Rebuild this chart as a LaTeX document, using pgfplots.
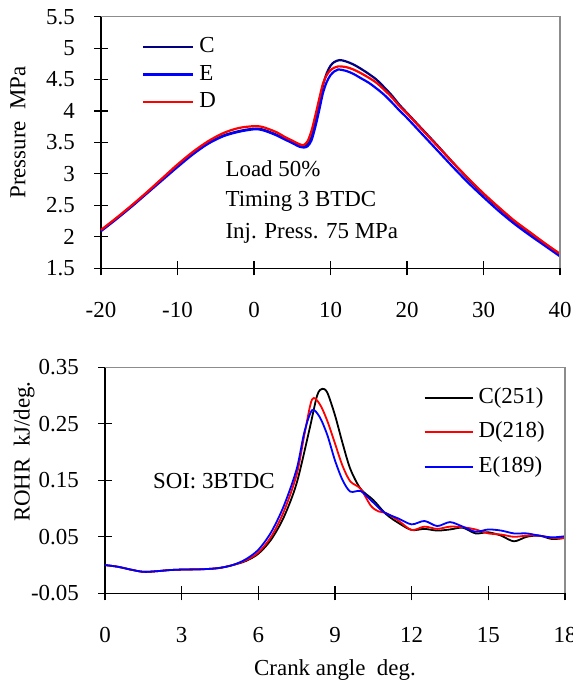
\documentclass[border=0pt]{standalone}
\usepackage{fontspec}
\setmainfont{Liberation Serif}
\usepackage{pgfplots}
\pgfplotsset{compat=1.18}
\definecolor{navyC}{RGB}{0,0,128}
\definecolor{frameg}{RGB}{140,140,140}
\pgfplotsset{
  common/.style={
    scale only axis,
    axis x line*=bottom, axis y line*=left,
    tick align=center, major tick length=14bp,
    axis line style={line width=1.2bp, black},
    tick style={black, line width=1.1bp},
    xticklabel style={anchor=center, inner sep=0pt, yshift=-35bp},
    yticklabel style={anchor=east, inner sep=0pt, xshift=-19bp},
    clip=false,
    legend cell align=left,
    legend style={draw=none, fill=none, inner sep=0pt, column sep=5bp,
      nodes={inner sep=0pt, text height=16bp, text depth=5bp}},
  },
  toplegimg/.style={legend image code/.code={\draw[##1, line width=2.4bp] (0bp,0bp) -- (50bp,0bp);}},
  botlegimg/.style={legend image code/.code={\draw[##1, line width=2bp] (0bp,0bp) -- (48bp,0bp);}},
}
\begin{document}
\begin{tikzpicture}[x=1bp,y=1bp,font=\fontsize{23}{27}\selectfont]
\path[use as bounding box] (0,0) rectangle (573,684);
% ---------------- top axis: pressure ----------------
\begin{axis}[common, toplegimg,
  at={(101bp,415.7bp)}, anchor=south west,
  width=459bp, height=251.6bp,
  xmin=-20, xmax=40, ymin=1.5, ymax=5.5,
  xtick={-20,-10,0,10,20,30,40},
  xticklabels={-20,-10,0,10,20,30,40},
  ytick={1.5,2,2.5,3,3.5,4,4.5,5,5.5},
  yticklabels={1.5,2,2.5,3,3.5,4,4.5,5,5.5},
  ylabel={Pressure\ \ MPa},
  ylabel style={at={(axis description cs:-0.181,0.54)}, anchor=center},
  legend style={at={(axis description cs:0.0887,0.922)}, anchor=north west, row sep=6.5bp},
]
\addplot[navyC, line width=2.2bp, smooth] coordinates {
(-20,2.10)(-18,2.29)(-16,2.49)(-14,2.70)(-12,2.92)(-10,3.13)(-8,3.33)(-6,3.49)(-4,3.61)(-2,3.68)(0,3.72)(1,3.71)(2,3.67)(3,3.62)(4,3.56)(5,3.50)(6,3.44)(6.5,3.43)(7,3.47)(7.5,3.58)(8,3.82)(8.5,4.10)(9,4.40)(9.5,4.60)(10,4.72)(10.5,4.78)(11.2,4.81)(12,4.79)(13,4.74)(14,4.67)(15,4.59)(16,4.50)(17,4.38)(18,4.25)(19,4.10)(20,3.97)(22,3.71)(24,3.45)(26,3.18)(28,2.92)(30,2.68)(32,2.46)(34,2.25)(36,2.07)(38,1.89)(40,1.72)};
\addlegendentry{C}
\addplot[blue, line width=2.2bp, smooth] coordinates {
(-20,2.09)(-18,2.28)(-16,2.48)(-14,2.69)(-12,2.90)(-10,3.11)(-8,3.31)(-6,3.48)(-4,3.60)(-2,3.67)(0,3.71)(1,3.70)(2,3.66)(3,3.61)(4,3.55)(5,3.49)(6,3.43)(6.5,3.42)(7,3.44)(7.5,3.53)(8,3.74)(8.5,4.00)(9,4.28)(9.5,4.46)(10,4.57)(10.5,4.63)(11,4.66)(12,4.64)(13,4.59)(14,4.52)(15,4.45)(16,4.36)(17,4.26)(18,4.14)(19,4.01)(20,3.89)(22,3.63)(24,3.37)(26,3.11)(28,2.86)(30,2.63)(32,2.41)(34,2.21)(36,2.03)(38,1.86)(40,1.69)};
\addlegendentry{E}
\addplot[red, line width=2.2bp, smooth] coordinates {
(-20,2.11)(-18,2.30)(-16,2.50)(-14,2.71)(-12,2.93)(-10,3.15)(-8,3.35)(-6,3.52)(-4,3.65)(-2,3.73)(0,3.76)(1,3.75)(2,3.71)(3,3.66)(4,3.59)(5,3.53)(6,3.47)(6.5,3.46)(7,3.52)(7.5,3.68)(8,3.92)(8.5,4.18)(9,4.43)(9.5,4.57)(10,4.65)(10.5,4.69)(11,4.71)(12,4.70)(13,4.66)(14,4.60)(15,4.53)(16,4.45)(17,4.34)(18,4.22)(19,4.08)(20,3.96)(22,3.70)(24,3.44)(26,3.18)(28,2.93)(30,2.69)(32,2.47)(34,2.26)(36,2.08)(38,1.90)(40,1.73)};
\addlegendentry{D}
\draw[frameg, line width=1.2bp] (rel axis cs:0,1) -- (rel axis cs:1,1) -- (rel axis cs:1,0);
\node[anchor=base west, inner sep=0pt] at (axis description cs:0.271,0.364) {Load 50\%};
\node[anchor=base west, inner sep=0pt] at (axis description cs:0.271,0.245) {Timing 3 BTDC};
\node[anchor=base west, inner sep=0pt] at (axis description cs:0.271,0.120) {Inj. Press. 75 MPa};
\end{axis}
% ---------------- bottom axis: ROHR ----------------
\begin{axis}[common, botlegimg,
  at={(105bp,90.7bp)}, anchor=south west,
  width=460bp, height=226bp,
  xmin=0, xmax=18, ymin=-0.05, ymax=0.35,
  xtick={0,3,6,9,12,15,18},
  xticklabels={0,3,6,9,12,15,18},
  ytick={-0.05,0.05,0.15,0.25,0.35},
  yticklabels={-0.05,0.05,0.15,0.25,0.35},
  ylabel={ROHR\ \ kJ/deg.},
  ylabel style={at={(axis description cs:-0.176,0.627)}, anchor=center},
  xlabel={Crank angle\ \ deg.},
  xlabel style={at={(axis description cs:0.5,-0.339)}, anchor=center},
  legend style={at={(axis description cs:0.692,0.912)}, anchor=north west, row sep=13.6bp},
]
\addplot[black, line width=1.8bp, smooth] coordinates {
(0,0.000)(0.5,-0.003)(1,-0.008)(1.5,-0.012)(2,-0.011)(2.5,-0.009)(3,-0.008)(4,-0.007)(4.5,-0.005)(5,0.000)(5.5,0.007)(6,0.020)(6.5,0.045)(7,0.085)(7.5,0.145)(8.0,0.240)(8.3,0.300)(8.5,0.312)(8.7,0.305)(9.0,0.265)(9.3,0.215)(9.6,0.170)(10.0,0.135)(10.5,0.115)(11.0,0.090)(11.5,0.074)(12,0.062)(12.5,0.064)(13,0.061)(13.5,0.063)(14,0.066)(14.5,0.056)(15,0.058)(15.5,0.052)(16,0.042)(16.5,0.050)(17,0.052)(17.5,0.046)(18,0.048)};
\addlegendentry{C(251)}
\addplot[red, line width=1.8bp, smooth] coordinates {
(0,0.000)(0.5,-0.003)(1,-0.008)(1.5,-0.012)(2,-0.011)(2.5,-0.009)(3,-0.008)(4,-0.007)(4.5,-0.005)(5,0.000)(5.5,0.008)(6,0.022)(6.5,0.050)(7,0.095)(7.5,0.160)(7.8,0.230)(8.1,0.293)(8.4,0.285)(8.7,0.255)(9.0,0.215)(9.3,0.175)(9.6,0.148)(10.0,0.135)(10.4,0.105)(10.7,0.095)(11.0,0.092)(11.5,0.078)(12,0.062)(12.5,0.068)(13,0.064)(13.5,0.068)(14,0.067)(14.5,0.063)(15,0.056)(15.5,0.054)(16,0.050)(16.5,0.052)(17,0.052)(17.5,0.048)(18,0.048)};
\addlegendentry{D(218)}
\addplot[blue, line width=1.8bp, smooth] coordinates {
(0,0.000)(0.5,-0.003)(1,-0.008)(1.5,-0.012)(2,-0.011)(2.5,-0.009)(3,-0.008)(3.5,-0.008)(4,-0.007)(4.5,-0.005)(5,0.000)(5.5,0.010)(6,0.027)(6.5,0.058)(7,0.105)(7.5,0.170)(7.8,0.235)(8.1,0.274)(8.4,0.262)(8.7,0.230)(9.0,0.185)(9.3,0.150)(9.6,0.130)(10.0,0.131)(10.4,0.115)(10.9,0.094)(11.5,0.082)(12,0.072)(12.5,0.078)(13,0.069)(13.5,0.076)(14,0.068)(14.5,0.059)(15,0.063)(15.5,0.061)(16,0.056)(16.5,0.056)(17,0.052)(17.5,0.049)(18,0.051)};
\addlegendentry{E(189)}
\draw[frameg, line width=1.2bp] (rel axis cs:0,1) -- (rel axis cs:1,1) -- (rel axis cs:1,0);
\node[anchor=base west, inner sep=0pt] at (axis description cs:0.104,0.4615) {SOI: 3BTDC};
\end{axis}
\end{tikzpicture}
\end{document}
